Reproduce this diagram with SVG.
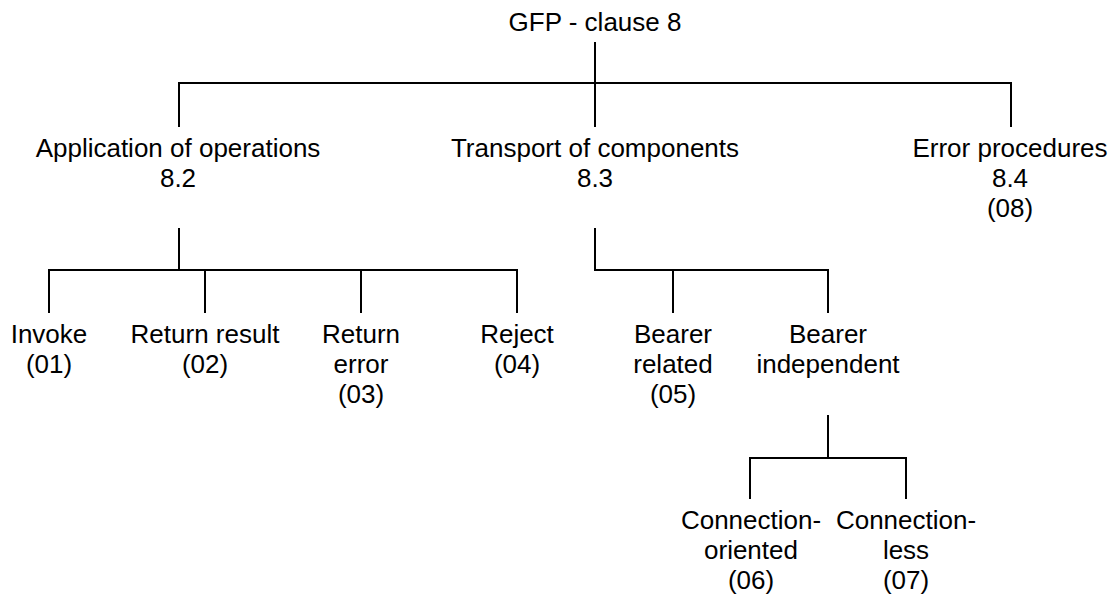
<svg xmlns="http://www.w3.org/2000/svg" width="1115" height="596" viewBox="0 0 1115 596">
<style>
text{font-family:"Liberation Sans",Arial,sans-serif;font-size:26px;fill:#000;text-anchor:middle}
.c{stroke:#000;stroke-width:2;fill:none}
</style>
<rect width="1115" height="596" fill="#fff"/>
<g id="connectors" class="c">
<path d="M595,42V127M179,127V83H1011V127"/>
<path d="M179,228V270M49,313V270H517V313M205,270V313M361,270V313"/>
<path d="M595,228V270H828V313M673,270V313"/>
<path d="M828,415V458M750,499V458H906V499"/>
</g>
<g id="root"><text x="595" y="31">GFP - clause 8</text></g>
<g id="app"><text x="178" y="157">Application of operations</text><text x="178" y="187">8.2</text></g>
<g id="transport"><text x="595" y="157">Transport of components</text><text x="595" y="187">8.3</text></g>
<g id="error"><text x="1010" y="157">Error procedures</text><text x="1010" y="187">8.4</text><text x="1010" y="217">(08)</text></g>
<g id="invoke"><text x="49" y="343">Invoke</text><text x="49" y="373">(01)</text></g>
<g id="rr"><text x="205" y="343">Return result</text><text x="205" y="373">(02)</text></g>
<g id="re"><text x="361" y="343">Return</text><text x="361" y="373">error</text><text x="361" y="403">(03)</text></g>
<g id="reject"><text x="517" y="343">Reject</text><text x="517" y="373">(04)</text></g>
<g id="br"><text x="673" y="343">Bearer</text><text x="673" y="373">related</text><text x="673" y="403">(05)</text></g>
<g id="bi"><text x="828" y="343">Bearer</text><text x="828" y="373">independent</text></g>
<g id="co"><text x="751" y="529">Connection-</text><text x="751" y="559">oriented</text><text x="751" y="589">(06)</text></g>
<g id="cl"><text x="906" y="529">Connection-</text><text x="906" y="559">less</text><text x="906" y="589">(07)</text></g>
</svg>
